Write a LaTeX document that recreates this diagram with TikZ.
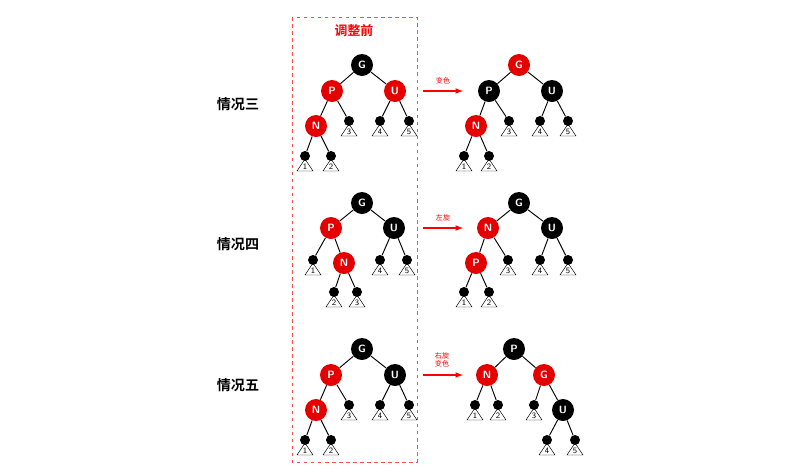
\documentclass[tikz,border=0pt]{standalone}
\usepackage{fontspec}
\setmainfont{Noto Sans CJK SC}
\newfontfamily\cjkb{Noto Sans CJK SC Bold}
\usepackage{tikz}

\tikzset{
    rn/.style={circle, fill=red!90!black, text=white, font=\sffamily\bfseries\fontsize{9}{9}\selectfont, minimum size=0.66cm, inner sep=0pt},
    bn/.style={rn, fill=black},
    lf/.style={circle, fill=black, minimum size=0.3cm, inner sep=0pt},
    edge/.style={thick}
}
% leaf dot with its triangle below
\newcommand{\leaf}[3]{%
    \node[lf] (#1) at (#2) {};
    \draw[thin] (#1.center) ++(0,3) -- ++(-8,12) -- ++(16,0) -- cycle;
    \node[font=\sffamily\fontsize{7}{7}\selectfont, inner sep=0pt] at ([yshift=-0.33cm]#1.center) {#3};
}

\begin{document}
\begin{tikzpicture}[x=0.03cm, y=-0.03cm]
    \useasboundingbox (0,0) rectangle (800,468);

    % before-adjustment frame
    \draw[red!70, dashed] (292,17) rectangle (417,462);
    \node[red, font=\cjkb\fontsize{11}{11}\selectfont] (title) at (354,31) {调整前};

    % row labels
    \node[font=\cjkb\fontsize{12}{12}\selectfont] (c3) at (238,104) {情况三};
    \node[font=\cjkb\fontsize{12}{12}\selectfont] (c4) at (238,244) {情况四};
    \node[font=\cjkb\fontsize{12}{12}\selectfont] (c5) at (238,385) {情况五};

    % ---- case three, before ----
    \node[bn] (aG) at (362,65) {G};
    \node[rn] (aP) at (332,91) {P};
    \node[rn] (aU) at (395,91) {U};
    \node[rn] (aN) at (316,126) {N};
    \leaf{a3}{349,121}{3} \leaf{a4}{380,121}{4} \leaf{a5}{409,121}{5}
    \leaf{a1}{305,156}{1} \leaf{a2}{331,156}{2}
    \draw[edge] (aG) -- (aP) (aG) -- (aU) (aP) -- (aN) (aP) -- (a3)
        (aU) -- (a4) (aU) -- (a5) (aN) -- (a1) (aN) -- (a2);

    % ---- case three, after ----
    \node[rn] (bG) at (519,65) {G};
    \node[bn] (bP) at (489,91) {P};
    \node[bn] (bU) at (552,91) {U};
    \node[rn] (bN) at (476,126) {N};
    \leaf{b3}{509,121}{3} \leaf{b4}{540,121}{4} \leaf{b5}{568,121}{5}
    \leaf{b1}{464,156}{1} \leaf{b2}{489,156}{2}
    \draw[edge] (bG) -- (bP) (bG) -- (bU) (bP) -- (bN) (bP) -- (b3)
        (bU) -- (b4) (bU) -- (b5) (bN) -- (b1) (bN) -- (b2);

    \coordinate (s3) at (423,91); \coordinate (e3) at (463,91);
    \draw[red, very thick, -latex] (s3) -- (e3)
        node[midway, above=2pt, font=\fontsize{6}{6}\selectfont] {变色};

    % ---- case four, before ----
    \node[bn] (cG) at (362,203) {G};
    \node[rn] (cP) at (331,228) {P};
    \node[bn] (cU) at (394,228) {U};
    \node[rn] (cN) at (344,263) {N};
    \leaf{c1}{313,260}{1} \leaf{c4}{380,260}{4} \leaf{c5}{407,260}{5}
    \leaf{c2}{334,292}{2} \leaf{c3}{357,292}{3}
    \draw[edge] (cG) -- (cP) (cG) -- (cU) (cP) -- (c1) (cP) -- (cN)
        (cU) -- (c4) (cU) -- (c5) (cN) -- (c2) (cN) -- (c3);

    % ---- case four, after ----
    \node[bn] (dG) at (519,203) {G};
    \node[rn] (dN) at (488,228) {N};
    \node[bn] (dU) at (552,228) {U};
    \node[rn] (dP) at (476,263) {P};
    \leaf{d3}{508,260}{3} \leaf{d4}{540,260}{4} \leaf{d5}{568,260}{5}
    \leaf{d1}{464,292}{1} \leaf{d2}{489,292}{2}
    \draw[edge] (dG) -- (dN) (dG) -- (dU) (dN) -- (dP) (dN) -- (d3)
        (dU) -- (d4) (dU) -- (d5) (dP) -- (d1) (dP) -- (d2);

    \coordinate (s4) at (423,228); \coordinate (e4) at (463,228);
    \draw[red, very thick, -latex] (s4) -- (e4)
        node[midway, above=2pt, font=\fontsize{6}{6}\selectfont] {左旋};

    % ---- case five, before ----
    \node[bn] (eG) at (362,349) {G};
    \node[rn] (eP) at (331,375) {P};
    \node[bn] (eU) at (395,375) {U};
    \node[rn] (eN) at (316,410) {N};
    \leaf{e3}{349,405}{3} \leaf{e4}{380,405}{4} \leaf{e5}{409,405}{5}
    \leaf{e1}{305,440}{1} \leaf{e2}{331,440}{2}
    \draw[edge] (eG) -- (eP) (eG) -- (eU) (eP) -- (eN) (eP) -- (e3)
        (eU) -- (e4) (eU) -- (e5) (eN) -- (e1) (eN) -- (e2);

    % ---- case five, after ----
    \node[bn] (fP) at (514,349) {P};
    \node[rn] (fN) at (487,375) {N};
    \node[rn] (fG) at (544,375) {G};
    \node[bn] (fU) at (563,410) {U};
    \leaf{f1}{475,405}{1} \leaf{f2}{498,405}{2} \leaf{f3}{534,405}{3}
    \leaf{f4}{547,440}{4} \leaf{f5}{575,440}{5}
    \draw[edge] (fP) -- (fN) (fP) -- (fG) (fN) -- (f1) (fN) -- (f2)
        (fG) -- (f3) (fG) -- (fU) (fU) -- (f4) (fU) -- (f5);

    \coordinate (s5) at (423,375); \coordinate (e5) at (463,375);
    \draw[red, very thick, -latex] (s5) -- (e5);
    \node[red, font=\fontsize{6}{7}\selectfont, align=center] (lab5) at (442,360) {右旋\\变色};
\end{tikzpicture}
\end{document}
